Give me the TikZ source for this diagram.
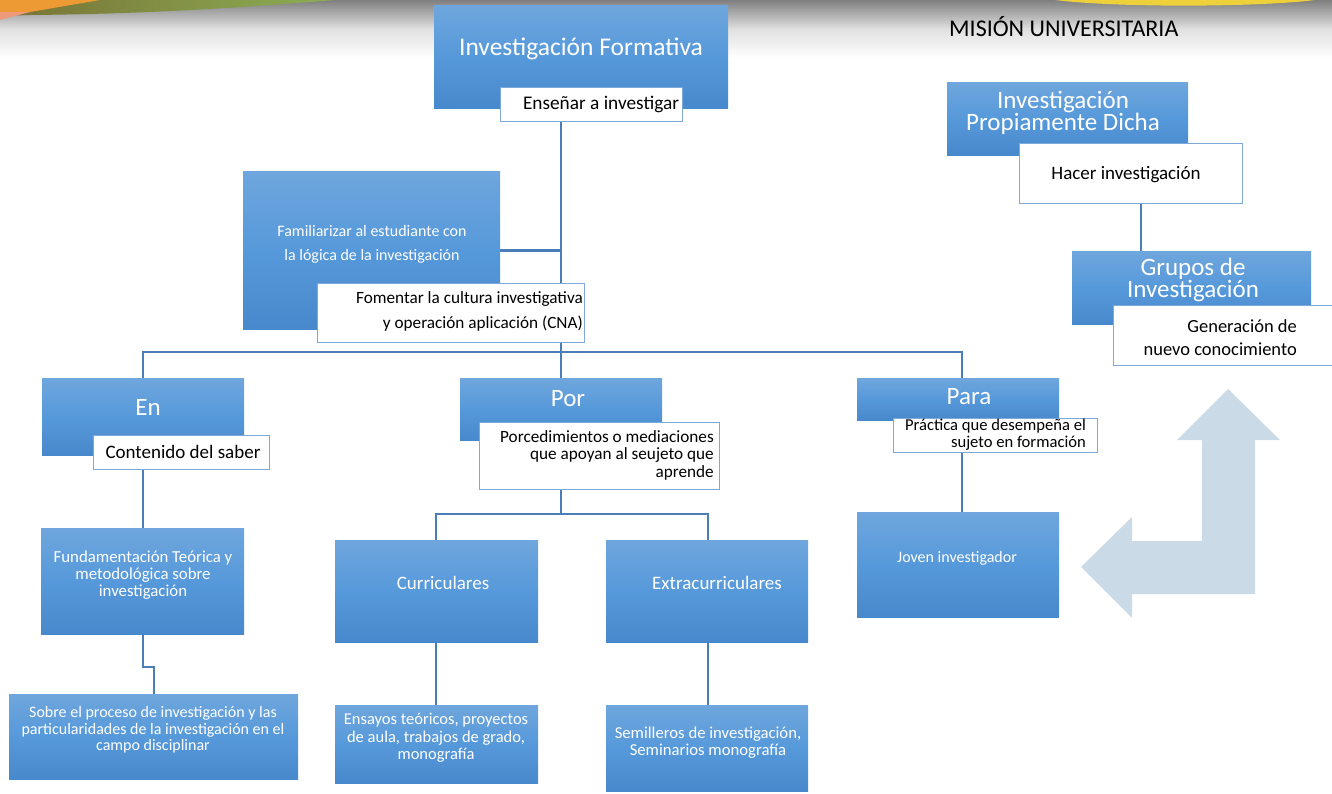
\documentclass[tikz,border=0pt]{standalone}
\usepackage{fontspec}
\setmainfont{Carlito}
\definecolor{bT}{HTML}{6FA6DD}
\definecolor{bM}{HTML}{5699DA}
\definecolor{bB}{HTML}{4888CC}
\definecolor{wB}{HTML}{7DAADB}
\definecolor{cL}{HTML}{4A7EB8}
\definecolor{arC}{HTML}{CBDAE7}
\definecolor{olL}{HTML}{787236}
\definecolor{olR}{HTML}{8CAE54}
\definecolor{orC}{HTML}{EE9A34}
\definecolor{saC}{HTML}{EE9A7A}
\definecolor{yeC}{HTML}{EDD03A}
\newcommand\fsz[2]{\fontsize{#1}{#2}\selectfont}
\begin{document}
\begin{tikzpicture}[x=1pt,y=-1pt,
  bbox/.style={anchor=north west, inner sep=0pt, top color=bT, bottom color=bB, middle color=bM, draw=none},
  wbox/.style={anchor=north west, inner sep=0pt, fill=white, draw=wB, line width=1.2pt},
  conn/.style={draw=cL, line width=2.6pt},
  wt/.style={text=white, align=center, inner sep=0pt},
  bt/.style={text=black, align=center, inner sep=0pt},
  rt/.style={text=black, align=right, inner sep=0pt, anchor=east},
]
\useasboundingbox (0,0) rectangle (1332,793);
\fill[white] (0,0) rectangle (1332,793);
% banner shadow
\shade[top color=black!50, bottom color=white, middle color=black!12] (0,0) rectangle (1332,58);
\shade[left color=olL, right color=olR] (0,0) -- (335,0) .. controls (250,7) and (150,14) .. (30,15) -- (0,16) -- cycle;
\fill[orC] (0,0) -- (100,0) -- (30,12) -- (0,12) -- cycle;
\fill[saC] (0,12) -- (30,12) -- (0,20) -- cycle;
\fill[yeC] (1055,0) .. controls (1120,8) and (1260,7) .. (1315,0) -- cycle;
\node[anchor=west, inner sep=0pt, font=\fsz{24}{26}] (mis) at (949,27) {MISIÓN UNIVERSITARIA};

% coordinates for connector x positions
\coordinate (xA) at (561,0);
\coordinate (xE) at (143,0);
\coordinate (xS) at (154,0);
\coordinate (xP) at (962,0);
\coordinate (xC) at (436,0);
\coordinate (xX) at (708,0);
\coordinate (xH) at (1141,0);
\coordinate (hb) at (0,352);
\coordinate (pb) at (0,514);
\coordinate (e1) at (0,667);

% arrow
\fill[arC] (1081,567) -- (1132,517) -- (1132,541) -- (1202,541) -- (1202,440) -- (1177,440) -- (1228,389) -- (1280,440) -- (1255,440) -- (1255,594) -- (1132,594) -- (1132,618) -- cycle;

% boxes
\node[bbox, minimum width=294pt, minimum height=103pt] (inf) at (434,5) {};
\node[wbox, minimum width=182pt, minimum height=34pt] (ens) at (500,87) {};
\node[wt, font=\fsz{25.5}{28}] (inft) at (581,49) {Investigación Formativa};
\node[bt, font=\fsz{19.3}{22}] (enst) at (601,104) {Enseñar a investigar};

\node[bbox, minimum width=257pt, minimum height=158pt] (fam) at (243,171) {};
\node[wt, font=\fsz{16}{24}] (famt) at (372,244) {Familiarizar al estudiante con\\la lógica de la investigación};
\node[wbox, minimum width=267pt, minimum height=59pt] (fom) at (317,283) {};
\node[rt, font=\fsz{17.2}{25}] (fomt) at (583,311) {Fomentar la cultura investigativa\\y operación aplicación (CNA)};

\node[bbox, minimum width=202pt, minimum height=77pt] (en) at (42,378) {};
\node[wt, font=\fsz{25}{28}] (ent) at (148,407) {En};
\node[wbox, minimum width=176pt, minimum height=34pt] (con) at (93,435) {};
\node[bt, font=\fsz{19}{22}] (cont) at (183,452) {Contenido del saber};

\node[bbox, minimum width=203pt, minimum height=106pt] (fun) at (41,528) {};
\node[wt, font=\fsz{16.8}{17}] (funt) at (143,575) {Fundamentación Teórica y\\metodológica sobre\\investigación};
\node[bbox, minimum width=289pt, minimum height=85pt] (sob) at (9,694) {};
\node[wt, font=\fsz{16}{16.5}] (sobt) at (153,730) {Sobre el proceso de investigación y las\\particularidades de la investigación en el\\campo disciplinar};

\node[bbox, minimum width=202pt, minimum height=62pt] (por) at (460,378) {};
\node[wt, font=\fsz{25}{28}] (port) at (568,399) {Por};
\node[wbox, minimum width=240pt, minimum height=67pt] (prc) at (479,422) {};
\node[rt, font=\fsz{17.2}{17.5}] (prct) at (714,455) {Porcedimientos o mediaciones\\que apoyan al seujeto que\\aprende};

\node[bbox, minimum width=203pt, minimum height=102pt] (cur) at (335,540) {};
\node[wt, font=\fsz{19}{22}] (curt) at (443,583) {Curriculares};
\node[bbox, minimum width=202pt, minimum height=102pt] (ext) at (606,540) {};
\node[wt, font=\fsz{19}{22}] (extt) at (717,583) {Extracurriculares};
\node[bbox, minimum width=203pt, minimum height=78pt] (esy) at (335,705) {};
\node[wt, font=\fsz{16.5}{17.5}] (esyt) at (436,738) {Ensayos teóricos, proyectos\\de aula, trabajos de grado,\\monografía};
\node[bbox, minimum width=202pt, minimum height=86pt] (sem) at (606,705) {};
\node[wt, font=\fsz{16.7}{17}] (semt) at (708,743) {Semilleros de investigación,\\Seminarios monografía};

\node[bbox, minimum width=202pt, minimum height=42pt] (par) at (857,378) {};
\node[wt, font=\fsz{25}{28}] (part) at (969,397) {Para};
\node[wbox, minimum width=204pt, minimum height=34pt] (pra) at (893,418) {};
\node[rt, font=\fsz{16.6}{17}] (prat) at (1086,435) {Práctica que desempeña el\\sujeto en formación};
\node[bbox, minimum width=202pt, minimum height=105pt] (jov) at (857,512) {};
\node[wt, font=\fsz{16}{19}] (jovt) at (957,558) {Joven investigador};

\node[bbox, minimum width=241pt, minimum height=73pt] (ipd) at (947,82) {};
\node[wt, font=\fsz{25}{22}] (ipdt) at (1063,113) {Investigación\\Propiamente Dicha};
\node[wbox, minimum width=223pt, minimum height=60pt] (hac) at (1019,143) {};
\node[bt, font=\fsz{19}{22}] (hact) at (1126,175) {Hacer investigación};
\node[bbox, minimum width=239pt, minimum height=73pt] (gru) at (1072,251) {};
\node[wt, font=\fsz{25}{22}] (grut) at (1193,280) {Grupos de\\Investigación};
\node[wbox, minimum width=222pt, minimum height=60pt] (gen) at (1113,305) {};
\node[rt, font=\fsz{18.5}{23}] (gent) at (1297,338) {Generación de\\nuevo conocimiento};

% connectors
\draw[conn] (ens.south -| xA) -- (fom.north -| xA);
\draw[conn] (fam.east) -- (fam.east -| xA);
\draw[conn] (fom.south -| xA) -- (por.north -| xA);
\draw[conn] (en.north -| xE) -- (xE |- hb) -- (xP |- hb) -- (par.north -| xP);
\draw[conn] (con.south -| xE) -- (fun.north -| xE);
\draw[conn] (fun.south -| xE) -- (xE |- e1) -- (xS |- e1) -- (sob.north -| xS);
\draw[conn] (prc.south -| xA) -- (xA |- pb);
\draw[conn] (cur.north -| xC) -- (xC |- pb) -- (xX |- pb) -- (ext.north -| xX);
\draw[conn] (cur.south -| xC) -- (esy.north -| xC);
\draw[conn] (ext.south -| xX) -- (sem.north -| xX);
\draw[conn] (pra.south -| xP) -- (jov.north -| xP);
\draw[conn] (hac.south -| xH) -- (gru.north -| xH);
\end{tikzpicture}
\end{document}
